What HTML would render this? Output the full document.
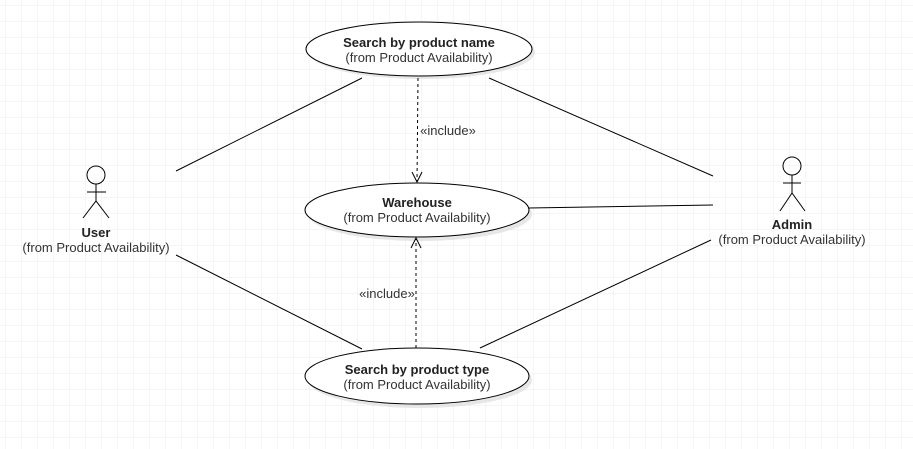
<!DOCTYPE html><html><head><style>body{margin:0}svg{display:block}</style></head><body>
<svg width="913" height="449" xmlns="http://www.w3.org/2000/svg" font-family="Liberation Sans, sans-serif" font-size="13">
<defs><pattern id="g" width="16" height="16" patternUnits="userSpaceOnUse" x="6" y="6"><path d="M16 0V16H0" fill="none" stroke="#ebebeb" stroke-width="1"/></pattern></defs>
<rect width="913" height="449" fill="#fff"/><rect width="913" height="449" fill="url(#g)"/>
<g fill="#ddd" opacity="0.7"><ellipse cx="422" cy="52" rx="113" ry="27"/><ellipse cx="420" cy="214" rx="112" ry="27"/><ellipse cx="420" cy="380" rx="112" ry="28"/></g>
<g stroke="#000" fill="#fff"><ellipse cx="419" cy="49" rx="113" ry="27"/><ellipse cx="417" cy="210" rx="112" ry="27"/><ellipse cx="417" cy="376" rx="112" ry="28"/></g>
<g stroke="#000" fill="none">
<line x1="176" y1="171" x2="362" y2="78"/><line x1="489" y1="78" x2="713" y2="176"/><line x1="529" y1="208" x2="713" y2="205"/><line x1="176" y1="255" x2="362" y2="349"/><line x1="480" y1="348" x2="711" y2="240"/>
<line x1="418" y1="78" x2="417" y2="181" stroke-dasharray="3,3"/><path d="M412 172L417 182L422 172"/>
<line x1="416" y1="348" x2="416" y2="239" stroke-dasharray="3,3"/><path d="M411 248L416 238L421 248"/>
<circle cx="96" cy="175" r="9"/><path d="M96 184V201M87 192H106M83 218L96 201L109 218"/>
<circle cx="792" cy="166" r="9"/><path d="M792 175V193M783 183H801M780 211L792 193L805 211"/>
</g>
<g text-anchor="middle" fill="#333">
<text x="419" y="47" font-weight="bold" fill="#222">Search by product name</text><text x="419" y="62">(from Product Availability)</text>
<text x="417" y="207" font-weight="bold" fill="#222">Warehouse</text><text x="417" y="222">(from Product Availability)</text>
<text x="417" y="374" font-weight="bold" fill="#222">Search by product type</text><text x="417" y="389">(from Product Availability)</text>
<text x="96" y="237" font-weight="bold" fill="#222">User</text><text x="96" y="252">(from Product Availability)</text>
<text x="792" y="229" font-weight="bold" fill="#222">Admin</text><text x="792" y="244">(from Product Availability)</text>
<text x="448" y="135">«include»</text><text x="387" y="298">«include»</text>
</g>
</svg></body></html>
